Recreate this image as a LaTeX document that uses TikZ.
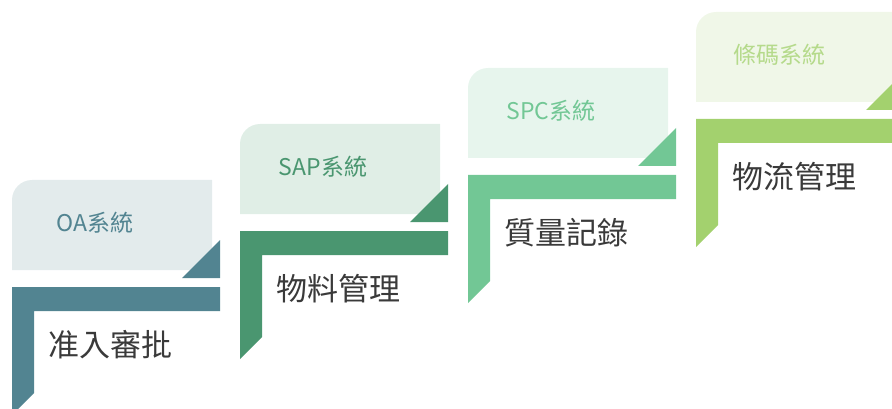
\documentclass[tikz,border=0pt]{standalone}
\usepackage{fontspec}
\setmainfont{Noto Sans CJK TC}
\usepackage{tikz}

\definecolor{oadark}{HTML}{528491}
\definecolor{oalight}{HTML}{E3EBEC}
\definecolor{sapdark}{HTML}{4A9670}
\definecolor{saplight}{HTML}{E0EEE6}
\definecolor{spcdark}{HTML}{72C795}
\definecolor{spclight}{HTML}{E7F5ED}
\definecolor{bardark}{HTML}{A3D16E}
\definecolor{barlight}{HTML}{F0F7E8}
\definecolor{stepgray}{HTML}{3A3A3A}

\tikzset{
  syslabel/.style={font=\fontsize{23}{23}\selectfont, inner sep=0pt},
  steptext/.style={font=\fontsize{31}{31}\selectfont, text=stepgray, anchor=west, inner sep=0pt}
}

\begin{document}
\begin{tikzpicture}[x=1pt, y=-1pt]
  \useasboundingbox (0, 0) rectangle (892, 409);
  \clip (0, 0) rectangle (892, 409);

  \begin{scope}[shift={(12, 180)}]
    \fill [oalight] (0, 90) {[rounded corners=20] -- (0, 0) -- (100, 0)} -- (200, 0) -- (200, 90) -- cycle;
    \fill [oadark] (170, 98) -- (208, 98) -- (208, 60) -- cycle;
    \fill [oadark] (0, 107) -- (208, 107) -- (208, 131) -- (22, 131) -- (22, 213) -- (0, 235) -- cycle;
    \node [syslabel, text=oadark] (oa) at (83, 43) {OA系統};
    \node [steptext] (oastep) at (36, 165) {准入審批};
  \end{scope}

  \begin{scope}[shift={(240, 124)}]
    \fill [saplight] (0, 90) {[rounded corners=20] -- (0, 0) -- (100, 0)} -- (200, 0) -- (200, 90) -- cycle;
    \fill [sapdark] (170, 98) -- (208, 98) -- (208, 60) -- cycle;
    \fill [sapdark] (0, 107) -- (208, 107) -- (208, 131) -- (22, 131) -- (22, 213) -- (0, 235) -- cycle;
    \node [syslabel, text=sapdark] (sap) at (83, 43) {SAP系統};
    \node [steptext] (sapstep) at (36, 165) {物料管理};
  \end{scope}

  \begin{scope}[shift={(468, 68)}]
    \fill [spclight] (0, 90) {[rounded corners=20] -- (0, 0) -- (100, 0)} -- (200, 0) -- (200, 90) -- cycle;
    \fill [spcdark] (170, 98) -- (208, 98) -- (208, 60) -- cycle;
    \fill [spcdark] (0, 107) -- (208, 107) -- (208, 131) -- (22, 131) -- (22, 213) -- (0, 235) -- cycle;
    \node [syslabel, text=spcdark] (spc) at (83, 43) {SPC系統};
    \node [steptext] (spcstep) at (36, 165) {質量記錄};
  \end{scope}

  \begin{scope}[shift={(696, 12)}]
    \fill [barlight] (0, 90) {[rounded corners=20] -- (0, 0) -- (100, 0)} -- (200, 0) -- (200, 90) -- cycle;
    \fill [bardark] (170, 98) -- (208, 98) -- (208, 60) -- cycle;
    \fill [bardark] (0, 107) -- (208, 107) -- (208, 131) -- (22, 131) -- (22, 213) -- (0, 235) -- cycle;
    \node [syslabel, text=bardark!80] (bar) at (83, 43) {條碼系統};
    \node [steptext] (barstep) at (36, 165) {物流管理};
  \end{scope}
\end{tikzpicture}
\end{document}
